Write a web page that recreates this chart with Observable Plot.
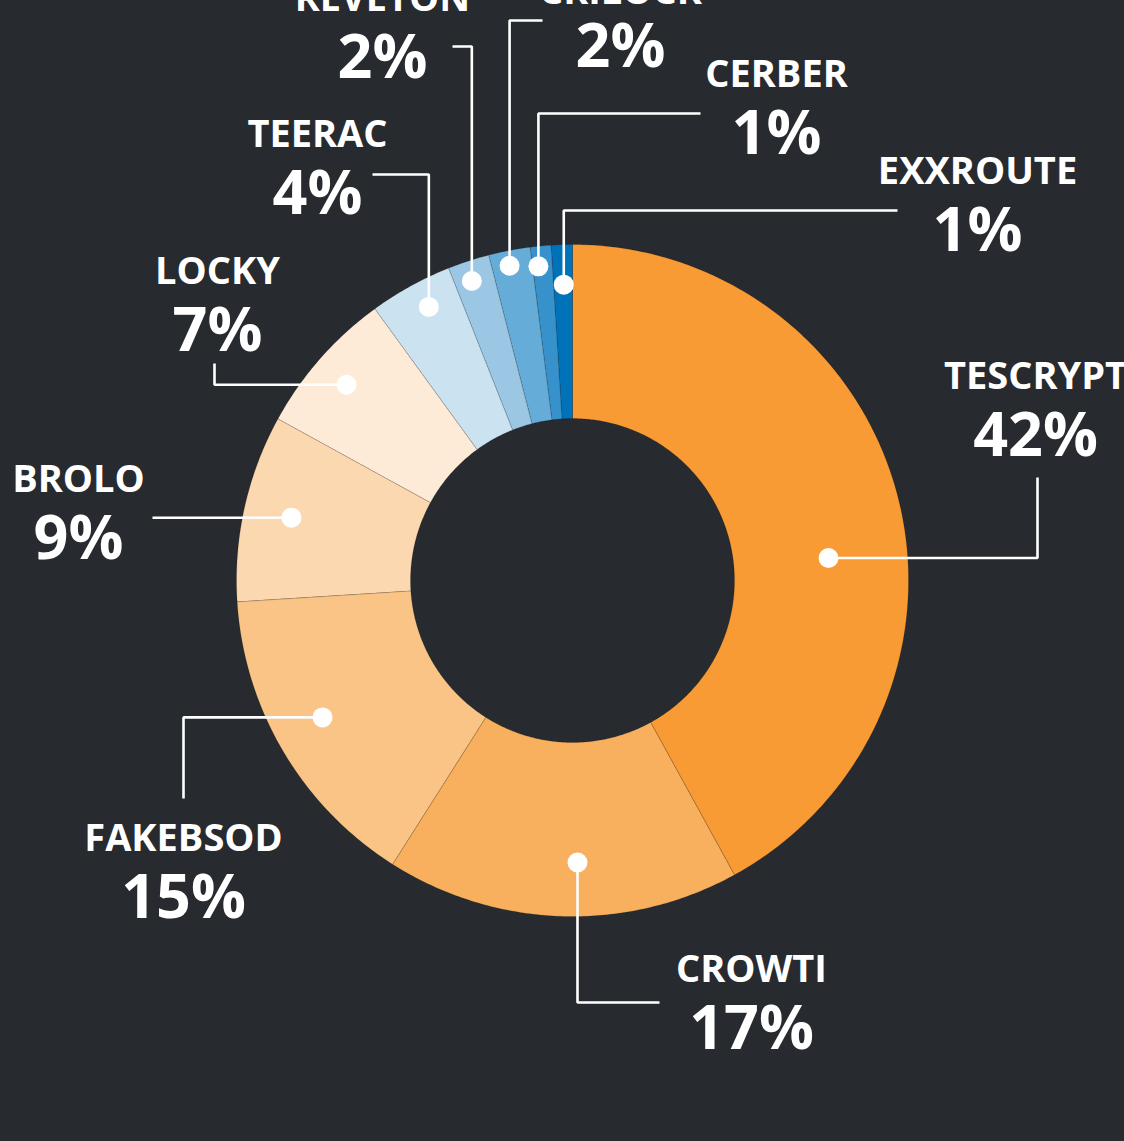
<!DOCTYPE html>
<html>
<head>
<meta charset="utf-8">
<script src="https://cdn.jsdelivr.net/npm/d3@7"></script>
<script src="https://cdn.jsdelivr.net/npm/@observablehq/plot@0.6"></script>
<style>
  html, body { margin: 0; padding: 0; background: #272a2e; }
  #chart svg { display: block; }
</style>
</head>
<body>
<div id="chart"></div>
<script>
// ---- data ----
const names  = ["TESCRYPT", "CROWTI", "FAKEBSOD", "BROLO", "LOCKY", "TEERAC", "REVETON", "CRILOCK", "CERBER", "EXXROUTE"];
const shares = [42, 17, 15, 9, 7, 4, 2, 2, 1, 1];
const colors = ["#f89b35", "#f9b05e", "#fac486", "#fcd8b0", "#fdead7", "#cbe2f1", "#9bc7e4", "#66acd8", "#3792cb", "#0072b9"];

// ---- layout (chart units: outer radius 336, centre at 0,0) ----
const R_OUT = 336, R_IN = 162;
// where along the slice the dot sits (fraction of span), its radius, leader style and end, label anchor
const layout = {
  TESCRYPT: {f: 0.562, r: 257, mode: "h", ex: 465,  ey: 103,  lx: 463,  ly: 192},
  CROWTI:   {f: 0.454, r: 282, mode: "v", ex: 87,   ey: -422, lx: 179,  ly: -401},
  FAKEBSOD: {f: 0.535, r: 285, mode: "h", ex: -389, ey: -218, lx: -389, ly: -270},
  BROLO:    {f: 0.50,  r: 288, mode: "h", ex: -420, ey: null, lx: -494, ly: 89},
  LOCKY:    {f: 0.48,  r: 299, mode: "h", ex: -358, ey: 217,  lx: -355, ly: 297},
  TEERAC:   {f: 0.576, r: 309, mode: "v", ex: -200, ey: 406,  lx: -255, ly: 434},
  REVETON:  {f: 0.42,  r: 316, mode: "v", ex: -120, ey: 534,  lx: -190, ly: 570},
  CRILOCK:  {f: 0.43,  r: 321, mode: "v", ex: -30,  ey: 560,  lx: 48,   ly: 577},
  CERBER:   {f: 0.28,  r: 316, mode: "v", ex: 128,  ey: 467,  lx: 204,  ly: 494},
  EXXROUTE: {f: 0.53,  r: 296, mode: "v", ex: 325,  ey: 370,  lx: 405,  ly: 397}
};

// ---- derived geometry ----
const total = d3.sum(shares);
const angle = d3.scaleLinear().domain([0, total]).range([0, 2 * Math.PI]);
const cum = d3.cumsum([0, ...shares]);
const polar = (a, r) => [r * Math.sin(a), r * Math.cos(a)];

const slicePts = [];
const dots = [];
const leaders = [];
const labels = [];
names.forEach((name, i) => {
  const a0 = angle(cum[i]), a1 = angle(cum[i + 1]);
  const n = Math.max(4, Math.ceil((a1 - a0) / 0.01));
  for (let k = 0; k <= n; k++) {
    const [x, y] = polar(a0 + (a1 - a0) * k / n, R_OUT);
    slicePts.push({name, x, y});
  }
  for (let k = n; k >= 0; k--) {
    const [x, y] = polar(a0 + (a1 - a0) * k / n, R_IN);
    slicePts.push({name, x, y});
  }
  const L = layout[name];
  const [dx, dy] = polar(a0 + (a1 - a0) * L.f, L.r);
  dots.push({name, x: dx, y: dy});
  const ey = L.ey == null ? dy : L.ey;
  const elbow = L.mode === "h" ? [L.ex, dy] : [dx, ey];
  [[dx, dy], elbow, [L.ex, ey]].forEach(([x, y]) => leaders.push({name, x, y}));
  labels.push({name, pct: shares[i] + "%", x: L.lx, y: L.ly, pctY: L.ly - (name === "CRILOCK" ? 63 : 67)});
});

const W = 1124, H = 1141, CX = 572, CY = 580;
const font = "'Open Sans', 'DejaVu Sans', sans-serif";

const chart = Plot.plot({
  width: W,
  height: H,
  margin: 0,
  x: {domain: [-CX, W - CX], axis: null},
  y: {domain: [CY - H, CY], axis: null},
  color: {domain: names, range: colors},
  style: {background: "#272a2e", overflow: "hidden"},
  marks: [
    Plot.line(slicePts, {x: "x", y: "y", z: "name", fill: "name", curve: "linear-closed",
      stroke: "#000", strokeOpacity: 0.18, strokeWidth: 0.8}),
    Plot.line(leaders, {x: "x", y: "y", z: "name", stroke: "white", strokeWidth: 2.6, curve: "linear", strokeLinejoin: "miter", strokeLinecap: "butt"}),
    Plot.dot(dots, {x: "x", y: "y", r: 10, fill: "white", stroke: null}),
    Plot.text(labels, {x: "x", y: "y", text: "name", fill: "white", fontSize: 38, fontWeight: 700,
      fontFamily: font, textAnchor: "middle", lineAnchor: "bottom"}),
    Plot.text(labels, {x: "x", y: "pctY", text: "pct", fill: "white", fontSize: 61, fontWeight: 700,
      fontFamily: font, textAnchor: "middle", lineAnchor: "bottom"})
  ]
});
document.getElementById("chart").appendChild(chart);
</script>
</body>
</html>
